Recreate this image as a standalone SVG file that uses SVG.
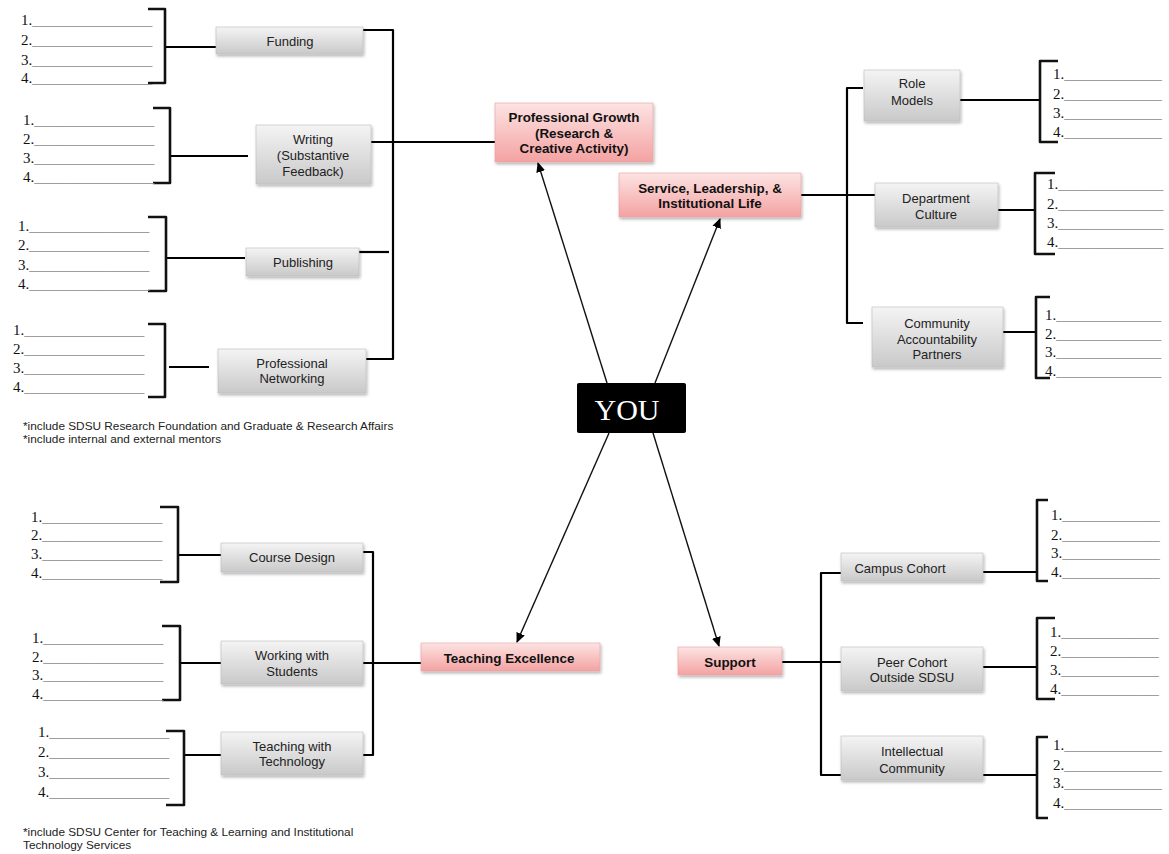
<svg xmlns="http://www.w3.org/2000/svg" width="1169" height="854" viewBox="0 0 1169 854">
<defs>
<linearGradient id="gg" x1="0" y1="0" x2="0" y2="1"><stop offset="0" stop-color="#f4f4f4"/><stop offset="1" stop-color="#c9c9c9"/></linearGradient>
<linearGradient id="pg" x1="0" y1="0" x2="0" y2="1"><stop offset="0" stop-color="#fde3e3"/><stop offset="1" stop-color="#f4a2a2"/></linearGradient>
<filter id="sh" x="-10%" y="-20%" width="130%" height="160%"><feDropShadow dx="1" dy="2" stdDeviation="1.5" flood-color="#000" flood-opacity="0.3"/></filter>
<marker id="ah" viewBox="0 0 10 10" refX="9" refY="5" markerWidth="10" markerHeight="10" markerUnits="userSpaceOnUse" orient="auto"><path d="M0,0.5 L10,5 L0,9.5 Z" fill="#000"/></marker>
</defs>
<style>
.g{fill:url(#gg);stroke:#bdbdbd;stroke-width:0.6;filter:url(#sh)}
.p{fill:url(#pg);stroke:#e8a0a0;stroke-width:0.6;filter:url(#sh)}
.t{font-family:"Liberation Sans",Arial,sans-serif;font-size:13px;fill:#222;text-anchor:middle}
.b{font-weight:bold;font-size:13.4px;fill:#111}
.l{font-family:"Liberation Serif","Times New Roman",serif;font-size:15px;fill:#111}
.u{fill:#888}
.n{font-family:"Liberation Sans",Arial,sans-serif;font-size:11.8px;fill:#222}
.c{fill:none;stroke:#000;stroke-width:2.2;stroke-linejoin:round}
.br{fill:none;stroke:#111;stroke-width:2.6;stroke-linejoin:round}
.a{stroke:#111;stroke-width:1.4;fill:none;marker-end:url(#ah)}
</style>
<rect width="1169" height="854" fill="#fff"/>

<g id="connectors">
<path class="c" d="M363,30 H393 V359 H365"/>
<path class="c" d="M359,252 H389"/>
<path class="c" d="M371,142 H495"/>
<path class="c" d="M863,88 H847 V323 H863"/>
<path class="c" d="M801,195 H875"/>
<path class="c" d="M363,552 H373 V755 H363"/>
<path class="c" d="M363,663 H421"/>
<path class="c" d="M841,573 H821 V775 H841"/>
<path class="c" d="M782,662 H841"/>
<path class="c" d="M165,47 H216"/>
<path class="c" d="M170,156 H248"/>
<path class="c" d="M166,258 H245"/>
<path class="c" d="M169,367 H209"/>
<path class="c" d="M178,555 H221"/>
<path class="c" d="M180,663 H221"/>
<path class="c" d="M184,755 H221"/>
<path class="c" d="M960,100 H1040"/>
<path class="c" d="M998,210 H1035"/>
<path class="c" d="M1003,332 H1036"/>
<path class="c" d="M983,572 H1037"/>
<path class="c" d="M983,667 H1037"/>
<path class="c" d="M983,775 H1037"/>
<line class="a" x1="607" y1="383" x2="538" y2="163"/>
<line class="a" x1="655" y1="383" x2="720" y2="219"/>
<line class="a" x1="609" y1="433" x2="517" y2="642"/>
<line class="a" x1="653" y1="433" x2="719" y2="646"/>
</g>

<g id="you">
<rect x="577" y="383" width="109" height="50" rx="2" fill="#000"/>
<text x="627" y="420" font-family="Liberation Serif,'Times New Roman',serif" font-size="30" fill="#fff" text-anchor="middle">YOU</text>
</g>

<g id="professional-growth">
<rect class="p" x="495" y="103" width="158" height="59"/>
<text class="t b" x="574" y="121.5">Professional Growth</text>
<text class="t b" x="574" y="137.5">(Research &amp;</text>
<text class="t b" x="574" y="152.5">Creative Activity)</text>
</g>
<g id="service">
<rect class="p" x="619" y="173" width="182" height="44"/>
<text class="t b" x="710" y="192.5">Service, Leadership, &amp;</text>
<text class="t b" x="710" y="207.5">Institutional Life</text>
</g>
<g id="teaching-excellence">
<rect class="p" x="421" y="643" width="179" height="28"/>
<text class="t b" x="509" y="662.5">Teaching Excellence</text>
</g>
<g id="support">
<rect class="p" x="678" y="647" width="104" height="28"/>
<text class="t b" x="730" y="666.5">Support</text>
</g>

<g id="funding">
<rect class="g" x="216" y="27" width="147" height="27"/>
<text class="t" x="290" y="45.5">Funding</text>
</g>
<g id="writing">
<rect class="g" x="256" y="125" width="115" height="59"/>
<text class="t" x="313" y="143.5">Writing</text>
<text class="t" x="313" y="159.5">(Substantive</text>
<text class="t" x="313" y="175.5">Feedback)</text>
</g>
<g id="publishing">
<rect class="g" x="246" y="248" width="113" height="28"/>
<text class="t" x="303" y="266.5">Publishing</text>
</g>
<g id="networking">
<rect class="g" x="218" y="349" width="148" height="44"/>
<text class="t" x="292" y="367.5">Professional</text>
<text class="t" x="292" y="382.5">Networking</text>
</g>
<g id="role-models">
<rect class="g" x="864" y="70" width="96" height="51"/>
<text class="t" x="912" y="87.5">Role</text>
<text class="t" x="912" y="104.5">Models</text>
</g>
<g id="department-culture">
<rect class="g" x="875" y="183" width="123" height="44"/>
<text class="t" x="936" y="202.5">Department</text>
<text class="t" x="936" y="218.5">Culture</text>
</g>
<g id="community">
<rect class="g" x="872" y="307" width="131" height="60"/>
<text class="t" x="937" y="327.5">Community</text>
<text class="t" x="937" y="343.5">Accountability</text>
<text class="t" x="937" y="358.5">Partners</text>
</g>
<g id="course-design">
<rect class="g" x="221" y="543" width="142" height="29"/>
<text class="t" x="292" y="561.5">Course Design</text>
</g>
<g id="working-students">
<rect class="g" x="221" y="641" width="142" height="43"/>
<text class="t" x="292" y="659.5">Working with</text>
<text class="t" x="292" y="675.5">Students</text>
</g>
<g id="teaching-tech">
<rect class="g" x="221" y="732" width="142" height="43"/>
<text class="t" x="292" y="750.5">Teaching with</text>
<text class="t" x="292" y="765.5">Technology</text>
</g>
<g id="campus-cohort">
<rect class="g" x="841" y="553" width="142" height="28"/>
<text class="t" x="900" y="572.5">Campus Cohort</text>
</g>
<g id="peer-cohort">
<rect class="g" x="841" y="647" width="142" height="44"/>
<text class="t" x="912" y="666.5">Peer Cohort</text>
<text class="t" x="912" y="681.5">Outside SDSU</text>
</g>
<g id="intellectual-community">
<rect class="g" x="841" y="736" width="142" height="44"/>
<text class="t" x="912" y="755.5">Intellectual</text>
<text class="t" x="912" y="772.5">Community</text>
</g>

<g id="list-funding">
<path class="br" d="M148,9 H165 V83 H148"/>
<text class="l" x="21" y="25">1.<tspan class="u">________________</tspan></text>
<text class="l" x="21" y="45">2.<tspan class="u">________________</tspan></text>
<text class="l" x="21" y="65">3.<tspan class="u">________________</tspan></text>
<text class="l" x="21" y="83">4.<tspan class="u">________________</tspan></text>
</g>
<g id="list-writing">
<path class="br" d="M153,108 H170 V183 H153"/>
<text class="l" x="23" y="125">1.<tspan class="u">________________</tspan></text>
<text class="l" x="23" y="144">2.<tspan class="u">________________</tspan></text>
<text class="l" x="23" y="163">3.<tspan class="u">________________</tspan></text>
<text class="l" x="23" y="182">4.<tspan class="u">________________</tspan></text>
</g>
<g id="list-publishing">
<path class="br" d="M148,217 H166 V291 H148"/>
<text class="l" x="18" y="231">1.<tspan class="u">________________</tspan></text>
<text class="l" x="18" y="250">2.<tspan class="u">________________</tspan></text>
<text class="l" x="18" y="270">3.<tspan class="u">________________</tspan></text>
<text class="l" x="18" y="289">4.<tspan class="u">________________</tspan></text>
</g>
<g id="list-networking">
<path class="br" d="M148,324 H165 V397 H148"/>
<text class="l" x="13" y="335">1.<tspan class="u">________________</tspan></text>
<text class="l" x="13" y="354">2.<tspan class="u">________________</tspan></text>
<text class="l" x="13" y="373">3.<tspan class="u">________________</tspan></text>
<text class="l" x="13" y="392">4.<tspan class="u">________________</tspan></text>
</g>
<g id="list-course">
<path class="br" d="M160,507 H178 V582 H160"/>
<text class="l" x="31" y="522">1.<tspan class="u">________________</tspan></text>
<text class="l" x="31" y="540">2.<tspan class="u">________________</tspan></text>
<text class="l" x="31" y="559">3.<tspan class="u">________________</tspan></text>
<text class="l" x="31" y="578">4.<tspan class="u">________________</tspan></text>
</g>
<g id="list-working">
<path class="br" d="M162,626 H180 V700 H162"/>
<text class="l" x="32" y="643">1.<tspan class="u">________________</tspan></text>
<text class="l" x="32" y="662">2.<tspan class="u">________________</tspan></text>
<text class="l" x="32" y="680">3.<tspan class="u">________________</tspan></text>
<text class="l" x="32" y="699">4.<tspan class="u">________________</tspan></text>
</g>
<g id="list-tech">
<path class="br" d="M166,731 H184 V805 H166"/>
<text class="l" x="38" y="737">1.<tspan class="u">________________</tspan></text>
<text class="l" x="38" y="757">2.<tspan class="u">________________</tspan></text>
<text class="l" x="38" y="777">3.<tspan class="u">________________</tspan></text>
<text class="l" x="38" y="797">4.<tspan class="u">________________</tspan></text>
</g>
<g id="list-role">
<path class="br" d="M1058,61 H1040 V142 H1058"/>
<text class="l" x="1053" y="79">1.<tspan class="u">_____________</tspan></text>
<text class="l" x="1053" y="99">2.<tspan class="u">_____________</tspan></text>
<text class="l" x="1053" y="118">3.<tspan class="u">_____________</tspan></text>
<text class="l" x="1053" y="137">4.<tspan class="u">_____________</tspan></text>
</g>
<g id="list-department">
<path class="br" d="M1055,173 H1035 V254 H1055"/>
<text class="l" x="1047" y="189">1.<tspan class="u">______________</tspan></text>
<text class="l" x="1047" y="209">2.<tspan class="u">______________</tspan></text>
<text class="l" x="1047" y="228">3.<tspan class="u">______________</tspan></text>
<text class="l" x="1047" y="247">4.<tspan class="u">______________</tspan></text>
</g>
<g id="list-community">
<path class="br" d="M1050,297 H1036 V378 H1050"/>
<text class="l" x="1045" y="320">1.<tspan class="u">______________</tspan></text>
<text class="l" x="1045" y="339">2.<tspan class="u">______________</tspan></text>
<text class="l" x="1045" y="357">3.<tspan class="u">______________</tspan></text>
<text class="l" x="1045" y="376">4.<tspan class="u">______________</tspan></text>
</g>
<g id="list-campus">
<path class="br" d="M1048,500 H1037 V581 H1048"/>
<text class="l" x="1051" y="520">1.<tspan class="u">_____________</tspan></text>
<text class="l" x="1051" y="540">2.<tspan class="u">_____________</tspan></text>
<text class="l" x="1051" y="558">3.<tspan class="u">_____________</tspan></text>
<text class="l" x="1051" y="577">4.<tspan class="u">_____________</tspan></text>
</g>
<g id="list-peer">
<path class="br" d="M1055,618 H1037 V699 H1055"/>
<text class="l" x="1050" y="637">1.<tspan class="u">_____________</tspan></text>
<text class="l" x="1050" y="656">2.<tspan class="u">_____________</tspan></text>
<text class="l" x="1050" y="675">3.<tspan class="u">_____________</tspan></text>
<text class="l" x="1050" y="694">4.<tspan class="u">_____________</tspan></text>
</g>
<g id="list-intellectual">
<path class="br" d="M1048,737 H1037 V818 H1048"/>
<text class="l" x="1053" y="750">1.<tspan class="u">_____________</tspan></text>
<text class="l" x="1053" y="770">2.<tspan class="u">_____________</tspan></text>
<text class="l" x="1053" y="788">3.<tspan class="u">_____________</tspan></text>
<text class="l" x="1053" y="808">4.<tspan class="u">_____________</tspan></text>
</g>

<g id="notes">
<text class="n" x="23" y="430">*include SDSU Research Foundation and Graduate &amp; Research Affairs</text>
<text class="n" x="23" y="443">*include internal and external mentors</text>
<text class="n" x="23" y="836">*include SDSU Center for Teaching &amp; Learning and Institutional</text>
<text class="n" x="23" y="849">Technology Services</text>
</g>
</svg>
